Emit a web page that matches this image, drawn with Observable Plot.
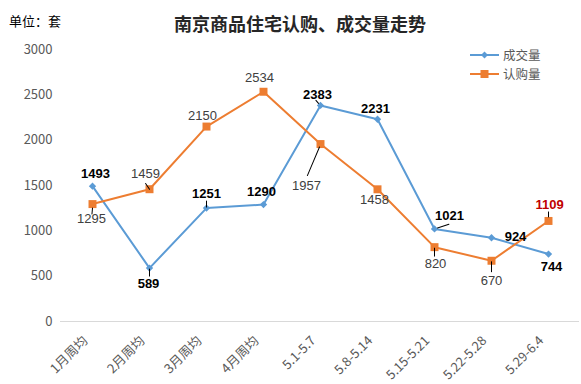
<!DOCTYPE html>
<html><head><meta charset="utf-8">
<script src="https://cdn.jsdelivr.net/npm/d3@7"></script>
<script src="https://cdn.jsdelivr.net/npm/@observablehq/plot@0.6"></script>
<style>
body{margin:0;background:#fff;}
#wrap{position:relative;width:581px;height:384px;overflow:hidden;font-family:"Noto Sans CJK SC","Noto Sans",sans-serif;}
#unit{position:absolute;left:9px;top:13px;font-size:13px;line-height:15px;color:#000;}
#title{position:absolute;left:174px;top:12px;font-size:18px;line-height:22px;font-weight:bold;color:#262626;white-space:nowrap;}
.leg{position:absolute;left:470px;height:14px;font-size:12.5px;line-height:14px;color:#595959;display:flex;align-items:center;}
.leg svg{margin-right:4px;}
.leg span{display:block;height:14px;line-height:14px;}
#chart{position:absolute;left:0;top:0;}
</style></head><body>
<div id="wrap">
<div id="chart"></div>
<div id="unit">单位：套</div>
<div id="title">南京商品住宅认购、成交量走势</div>
<div class="leg" style="top:48px"><svg width="29" height="10"><line x1="0" y1="5" x2="29" y2="5" stroke="#5B9BD5" stroke-width="2"/><path d="M14.5,1.5L18,5L14.5,8.5L11,5Z" fill="#5B9BD5"/></svg><span id="leg1"></span></div>
<div class="leg" style="top:67px"><svg width="29" height="10"><line x1="0" y1="5" x2="29" y2="5" stroke="#ED7D31" stroke-width="2"/><rect x="10.5" y="1" width="8" height="8" fill="#ED7D31"/></svg><span id="leg2"></span></div>
</div>
<script>
const categories = ["1月周均","2月周均","3月周均","4月周均","5.1-5.7","5.8-5.14","5.15-5.21","5.22-5.28","5.29-6.4"];
const dealValues = [1493,589,1251,1290,2383,2231,1021,924,744];
const subscribeValues = [1295,1459,2150,2534,1957,1458,820,670,1109];
const seriesNames = ["成交量","认购量"];
const yTicks = [0,500,1000,1500,2000,2500,3000];

document.getElementById("leg1").textContent = seriesNames[0];
document.getElementById("leg2").textContent = seriesNames[1];

const BLUE = "#5B9BD5", ORANGE = "#ED7D31";
const deal = categories.map((c,i)=>({cat:c, v:dealValues[i]}));
const sub = categories.map((c,i)=>({cat:c, v:subscribeValues[i]}));

// label layout offsets (pixels)
const dealOff = [[3,-12],[-1,16],[0,-14],[-2,-13],[-3,-11],[-2,-10],[15,-13],[24,-1],[3,13]];
const subOff = [[-1,15],[-4,-15],[-4,-11],[-4,-14],[-14,42],[-3,11],[1,17],[0,20],[1,-16]];
// leader lines: [series, index, dx, dy, angle, length]
const leaders = [
  [1,0,0,4,185,6],[1,1,0,0,-34,7],[0,2,0,-1,0,6],[0,1,0,1,180,7],
  [1,4,-1,3,203,31],[0,6,3,-1,72,12],[1,6,0,1,180,8],[1,7,0,1,180,10],[1,8,0,-4,0,5],[0,4,-2,-2,-40,4]
];
const lineShape = {draw(ctx, l){ctx.moveTo(0,0); ctx.lineTo(0,-l);}};

const labelMarks = [];
categories.forEach((c,i)=>{
  labelMarks.push(Plot.text([deal[i]], {x:"cat", y:"v", text:d=>String(d.v), dx:dealOff[i][0], dy:dealOff[i][1], fontSize:13, fontWeight:"bold", fill:"#000", fontFamily:"Liberation Sans, Arial, sans-serif"}));
  const last = i === categories.length-1;
  labelMarks.push(Plot.text([sub[i]], {x:"cat", y:"v", text:d=>String(d.v), dx:subOff[i][0], dy:subOff[i][1], fontSize:13, fontWeight: last?"bold":"normal", fill: last?"#C00000":"#404040", fontFamily:"Liberation Sans, Arial, sans-serif"}));
});
const leaderMarks = leaders.map(([s,i,dx,dy,a,l])=>Plot.vector([(s===0?deal:sub)[i]], {x:"cat", y:"v", dx, dy, rotate:a, length:l, anchor:"start", shape:lineShape, stroke:"#000", strokeWidth:1}));

const chart = Plot.plot({
  width:581, height:384,
  marginLeft:60, marginRight:2, marginTop:49, marginBottom:63,
  style:{fontFamily:"Noto Sans CJK SC, sans-serif", background:"transparent"},
  x:{type:"point", domain:categories, padding:0.5, label:null},
  y:{domain:[0,3000], label:null},
  marks:[
    Plot.ruleY([0], {stroke:"#d9d9d9"}),
    Plot.axisY({ticks:yTicks, tickSize:0, tickPadding:8, fontSize:13, color:"#595959", label:null, tickFormat:d=>String(d)}),
    Plot.axisX({tickSize:0, tickRotate:-45, tickPadding:6, dx:-7, dy:11, fontSize:13, color:"#595959", label:null}),
    Plot.line(deal, {x:"cat", y:"v", stroke:BLUE, strokeWidth:2}),
    Plot.line(sub, {x:"cat", y:"v", stroke:ORANGE, strokeWidth:2}),
    Plot.dot(deal, {x:"cat", y:"v", symbol:"diamond2", r:3.3, fill:BLUE}),
    Plot.dot(sub, {x:"cat", y:"v", symbol:"square", r:4.5, fill:ORANGE}),
    ...leaderMarks,
    ...labelMarks
  ]
});
document.getElementById("chart").appendChild(chart);
</script>
</body></html>
